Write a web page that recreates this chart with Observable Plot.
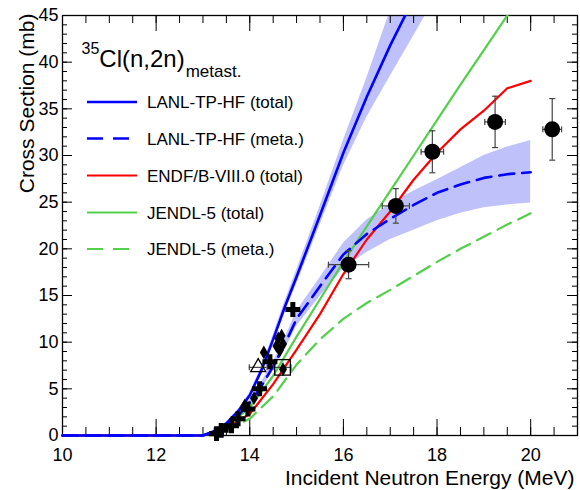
<!DOCTYPE html>
<html><head><meta charset="utf-8">
<script src="https://cdn.jsdelivr.net/npm/d3@7"></script>
<script src="https://cdn.jsdelivr.net/npm/@observablehq/plot@0.6"></script>
<style>
body{margin:0;background:#fff;}
#wrap{position:relative;width:580px;height:490px;}
#wrap svg{display:block;}
#leg{position:absolute;left:0;top:0;pointer-events:none;}
</style></head><body><div id="wrap"></div>
<script>
// ---- data ----
const lanlTotE  = [10, 13, 13.25, 13.5, 13.75, 14, 14.25, 14.5, 14.75, 15, 15.5, 16, 16.5, 17, 17.5, 18];
const lanlTot   = [0, 0, 0.5, 1.3, 2.6, 4.3, 7.0, 10.3, 13.8, 17.0, 23.6, 30.3, 36.3, 41.8, 46.8, 51.5];
const lanlTotHi = [0, 0, 0.55, 1.4, 2.75, 4.55, 7.35, 10.75, 14.35, 17.7, 24.55, 31.6, 38.3, 45.5, 51.5, 56.7];
const lanlTotLo = [0, 0, 0.45, 1.2, 2.45, 4.0, 6.6, 9.8, 13.2, 16.2, 22.55, 28.9, 34.1, 38.5, 42.8, 47.2];

const lanlMetaE  = [10, 13, 13.25, 13.5, 13.75, 14, 14.25, 14.5, 14.75, 15, 15.5, 16, 16.5, 17, 17.5, 18, 18.5, 19, 19.5, 20];
const lanlMeta   = [0, 0, 0.4, 1.1, 2.1, 3.5, 5.3, 7.4, 9.8, 12.5, 16.0, 19.4, 21.6, 23.2, 24.7, 26.0, 26.9, 27.6, 28.0, 28.2];
const lanlMetaHi = [0, 0, 0.45, 1.2, 2.3, 3.8, 5.7, 7.9, 10.4, 13.3, 16.9, 20.6, 23.1, 24.8, 26.2, 27.4, 28.7, 30.0, 30.9, 31.6];
const lanlMetaLo = [0, 0, 0.35, 1.0, 1.9, 3.2, 4.9, 6.9, 9.2, 11.7, 14.9, 17.9, 19.6, 21.0, 22.0, 23.0, 23.8, 24.4, 24.7, 24.9];

const evalE    = [10, 13, 13.5, 14, 14.5, 15, 15.5, 16, 16.5, 17, 17.5, 18, 18.5, 19, 19.5, 20];
const endfTot  = [0, 0, 0.8, 2.3, 5.5, 9.2, 13.0, 17.3, 21.0, 24.0, 27.4, 30.3, 32.8, 34.8, 37.2, 38.0];
const jendlTot = [0, 0, 0.9, 3.0, 6.4, 10.6, 14.6, 18.6, 22.4, 26.2, 30.0, 33.8, 37.6, 41.3, 45.0, 48.7];
const jendlMeta= [0, 0, 0.6, 1.8, 4.2, 7.6, 10.3, 12.5, 14.2, 15.6, 17.1, 18.6, 20.0, 21.3, 22.6, 23.8];

// experimental data
const circE  = [16.11, 17.12, 17.90, 19.24, 20.46];
const circY  = [18.3, 24.6, 30.4, 33.6, 32.8];
const circDx = [0.43, 0.29, 0.24, 0.22, 0.20];
const circDy = [1.5, 1.85, 2.25, 2.75, 3.3];
const crossE = [13.29, 13.39, 13.61, 13.75, 13.96, 14.21, 14.43, 14.92];
const crossY = [0.2, 0.55, 1.05, 1.8, 2.85, 5.0, 7.9, 13.5];
const diaE   = [13.89, 14.09, 14.30, 14.57, 14.61, 14.64, 14.68, 14.71, 14.71];
const diaY   = [3.2, 4.0, 8.9, 9.6, 10.4, 9.1, 10.7, 9.8, 7.1];
const triE = [14.18], triY = [7.3], triDx = [0.19];
const sqE  = [14.70], sqY  = [7.3], sqDx  = [0.18];

const xTickLabels = [10, 12, 14, 16, 18, 20];
const yTickLabels = [0, 5, 10, 15, 20, 25, 30, 35, 40, 45];
const legendLabels = ["LANL-TP-HF (total)", "LANL-TP-HF (meta.)", "ENDF/B-VIII.0 (total)", "JENDL-5 (total)", "JENDL-5 (meta.)"];

// ---- tables ----
const rows = (E, Y, Lo, Hi) => E.map((e, i) => ({e, y: Y[i], lo: Lo ? Lo[i] : null, hi: Hi ? Hi[i] : null}));
const lanlTotRows = rows(lanlTotE, lanlTot, lanlTotLo, lanlTotHi);
const lanlMetaRows = rows(lanlMetaE, lanlMeta, lanlMetaLo, lanlMetaHi);
const endfRows = rows(evalE, endfTot);
const jendlTotRows = rows(evalE, jendlTot);
const jendlMetaRows = rows(evalE, jendlMeta);
const circRows = circE.map((e, i) => ({e, y: circY[i], dx: circDx[i], dy: circDy[i]}));
const crossRows = crossE.map((e, i) => ({e, y: crossY[i]}));
const diaRows = diaE.map((e, i) => ({e, y: diaY[i]}));
const triRows = triE.map((e, i) => ({e, y: triY[i], dx: triDx[i]}));
const sqRows = sqE.map((e, i) => ({e, y: sqY[i], dx: sqDx[i]}));

const xMajor = d3.range(10, 21.01, 2), xMinor = d3.range(10, 21.01, 0.5);
const yMajor = d3.range(0, 45.01, 5), yMinor = d3.range(0, 45.01, 1);

// ---- style ----
const BLUE = "#0000ff", RED = "#ff0000", GREEN = "#52d04a", BAND = "#bfc2fa", ERR = "#444";
const W = 580, H = 490, mL = 62, mR = 3, mT = 15, mB = 55;
const fw = W - mL - mR, fh = H - mT - mB;
const vCap = {draw(ctx, size) { const r = Math.sqrt(size / Math.PI); ctx.moveTo(0, -r); ctx.lineTo(0, r); }};
const hCap = {draw(ctx, size) { const r = Math.sqrt(size / Math.PI); ctx.moveTo(-r, 0); ctx.lineTo(r, 0); }};
const xErr = (data) => [
  Plot.ruleY(data, {y: "y", x1: d => d.e - d.dx, x2: d => d.e + d.dx, stroke: ERR, strokeWidth: 1.2}),
  Plot.dot(data, {x: d => d.e - d.dx, y: "y", symbol: vCap, r: 3, stroke: ERR, fill: "none", strokeWidth: 1.2}),
  Plot.dot(data, {x: d => d.e + d.dx, y: "y", symbol: vCap, r: 3, stroke: ERR, fill: "none", strokeWidth: 1.2})
];
const yErr = (data) => [
  Plot.ruleX(data, {x: "e", y1: d => d.y - d.dy, y2: d => d.y + d.dy, stroke: ERR, strokeWidth: 1.2}),
  Plot.dot(data, {x: "e", y: d => d.y - d.dy, symbol: hCap, r: 3, stroke: ERR, fill: "none", strokeWidth: 1.2}),
  Plot.dot(data, {x: "e", y: d => d.y + d.dy, symbol: hCap, r: 3, stroke: ERR, fill: "none", strokeWidth: 1.2})
];

const chart = Plot.plot({
  width: W, height: H, marginLeft: mL, marginRight: mR, marginTop: mT, marginBottom: mB,
  style: {fontFamily: "'Liberation Sans', Arial, Helvetica, sans-serif", fontSize: "18px", background: "white", color: "black"},
  x: {domain: [10, 21], ticks: xTickLabels, tickFormat: d => String(d), tickSize: 0, tickPadding: 13, label: null},
  y: {domain: [0, 45], ticks: yTickLabels, tickFormat: d => String(d), tickSize: 0, tickPadding: 4, label: null},
  marks: [
    Plot.areaY(lanlTotRows, {x: "e", y1: "lo", y2: "hi", fill: BAND, clip: true}),
    Plot.areaY(lanlMetaRows, {x: "e", y1: "lo", y2: "hi", fill: BAND}),
    Plot.frame({stroke: "black", strokeWidth: 1.3}),
    Plot.ruleY(yMinor, {insetRight: fw - 5, stroke: "black"}),
    Plot.ruleY(yMajor, {insetRight: fw - 10, stroke: "black"}),
    Plot.ruleY(yMinor, {insetLeft: fw - 5, stroke: "black"}),
    Plot.ruleY(yMajor, {insetLeft: fw - 10, stroke: "black"}),
    Plot.ruleX(xMinor, {insetTop: fh - 8, stroke: "black"}),
    Plot.ruleX(xMajor, {insetTop: fh - 16, stroke: "black"}),
    Plot.ruleX(xMinor, {insetBottom: fh - 8, stroke: "black"}),
    Plot.ruleX(xMajor, {insetBottom: fh - 16, stroke: "black"}),
    Plot.line(jendlMetaRows, {x: "e", y: "y", stroke: GREEN, strokeWidth: 2.2, strokeDasharray: "15,8"}),
    Plot.line(jendlTotRows, {filter: d => d.e <= 13, x: "e", y: "y", stroke: GREEN, strokeWidth: 2.2}),
    Plot.line(jendlTotRows, {filter: d => d.e >= 13, x: "e", y: "y", stroke: GREEN, strokeWidth: 2.2, clip: true}),
    Plot.line(endfRows, {x: "e", y: "y", stroke: RED, strokeWidth: 2.2}),
    Plot.line(lanlMetaRows, {x: "e", y: "y", stroke: BLUE, strokeWidth: 2.6, strokeDasharray: "15,8"}),
    Plot.line(lanlTotRows, {filter: d => d.e <= 13, x: "e", y: "y", stroke: BLUE, strokeWidth: 2.6}),
    Plot.line(lanlTotRows, {filter: d => d.e >= 13, x: "e", y: "y", stroke: BLUE, strokeWidth: 2.6, clip: true}),
    ...xErr(circRows), ...yErr(circRows),
    ...xErr(triRows), ...xErr(sqRows),
    Plot.dot(crossRows, {x: "e", y: "y", symbol: "cross", r: 6.3, fill: "black", stroke: "none"}),
    Plot.dot(diaRows, {x: "e", y: "y", symbol: "diamond", r: 4.2, fill: "black", stroke: "none"}),
    Plot.dot(triRows, {x: "e", y: "y", symbol: "triangle", r: 5.6, fill: "none", stroke: "black", strokeWidth: 1.3}),
    Plot.dot(sqRows, {x: "e", y: "y", symbol: "square", r: 8.8, fill: "none", stroke: "black", strokeWidth: 1.3}),
    Plot.dot(circRows, {x: "e", y: "y", symbol: "circle", r: 8, fill: "black", stroke: "none"}),
    Plot.text(["Incident Neutron Energy (MeV)"], {text: d => d, frameAnchor: "bottom-right", textAnchor: "end", lineAnchor: "bottom", dx: -3, dy: 49, fontSize: 21}),
    Plot.text(["Cross Section (mb)"], {text: d => d, frameAnchor: "top-left", textAnchor: "end", lineAnchor: "bottom", rotate: -90, dx: -29, dy: -2, fontSize: 21})
  ]
});
const wrap = document.getElementById("wrap");
wrap.appendChild(chart);

// ---- legend overlay (inside the frame) ----
const legendStyles = [
  {stroke: BLUE, width: 2.6, dash: null},
  {stroke: BLUE, width: 2.6, dash: "16,10"},
  {stroke: RED, width: 2.2, dash: null},
  {stroke: GREEN, width: 2.2, dash: null},
  {stroke: GREEN, width: 2.2, dash: "16,10"}
];
const leg = d3.select(wrap).append("svg").attr("id", "leg").attr("width", W).attr("height", H)
  .style("font-family", "'Liberation Sans', Arial, Helvetica, sans-serif");
const title = leg.append("text").attr("x", 81.5).attr("y", 67).attr("fill", "black");
title.append("tspan").attr("font-size", 16).attr("dy", -13.5).text("35");
title.append("tspan").attr("font-size", 24).attr("dy", 13.5).text("Cl(n,2n)");
title.append("tspan").attr("font-size", 17).attr("dy", 10.3).attr("dx", 1).text("metast.");
const rowY = [102, 138.5, 175.5, 212.5, 249];
legendLabels.forEach((lab, i) => {
  const s = legendStyles[i];
  leg.append("line").attr("x1", 87).attr("x2", 137).attr("y1", rowY[i]).attr("y2", rowY[i])
    .attr("stroke", s.stroke).attr("stroke-width", s.width).attr("stroke-dasharray", s.dash);
  leg.append("text").attr("x", 147).attr("y", rowY[i] + 6).attr("font-size", 17).attr("fill", "black").text(lab);
});
</script></body></html>
